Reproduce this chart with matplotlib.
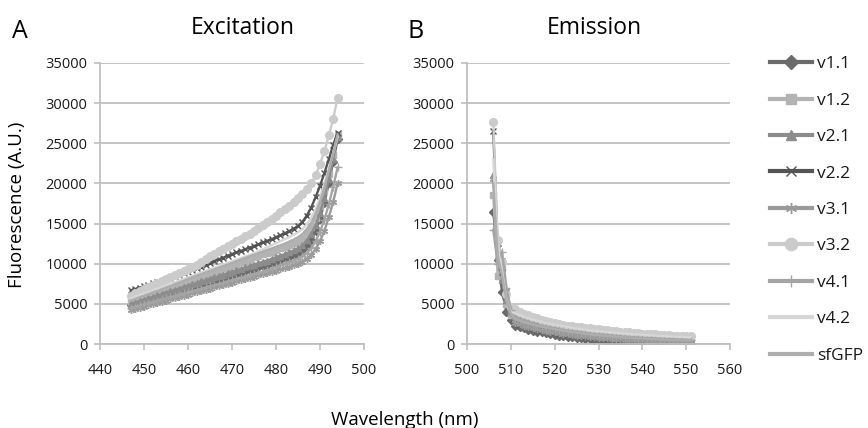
import matplotlib
matplotlib.use('Agg')
import matplotlib.pyplot as plt

plt.rcParams['font.family'] = ['Open Sans', 'DejaVu Sans']

# ---------------- data ----------------
series_names = ['v1.1', 'v1.2', 'v2.1', 'v2.2', 'v3.1', 'v3.2', 'v4.1', 'v4.2', 'sfGFP']

ex_wavelength = list(range(447, 495))   # nm, 1 nm steps
em_wavelength = list(range(506, 552))   # nm, 1 nm steps

ex_v11 = [4800, 4950, 5100, 5250, 5400, 5550, 5700, 5850, 6000, 6200, 6350, 6500, 6700, 6850, 7000, 7200,
          7350, 7550, 7700, 7850, 8050, 8200, 8400, 8550, 8750, 8900, 9050, 9250, 9400, 9550, 9750, 9900,
          10100, 10250, 10450, 10650, 10850, 11050, 11300, 11650, 12200, 13000, 14100, 15600, 17600, 20000,
          22700, 25500]
ex_v12 = [5200, 5400, 5600, 5800, 6000, 6200, 6400, 6600, 6800, 7000, 7200, 7450, 7650, 7900, 8100, 8300,
          8500, 8700, 8900, 9100, 9250, 9450, 9600, 9800, 10000, 10200, 10400, 10600, 10800, 11000, 11150,
          11350, 11500, 11700, 11900, 12100, 12300, 12550, 12800, 13200, 13800, 14600, 15700, 17200, 19000,
          21200, 23500, 26000]
ex_v21 = [5000, 5150, 5350, 5500, 5700, 5850, 6050, 6200, 6400, 6550, 6750, 6900, 7100, 7250, 7450, 7600,
          7800, 7950, 8150, 8300, 8500, 8650, 8850, 9000, 9200, 9350, 9550, 9700, 9900, 10050, 10250, 10400,
          10600, 10800, 11000, 11200, 11400, 11650, 11900, 12300, 12900, 13700, 14800, 16300, 18200, 20500,
          23000, 25800]
ex_v22 = [6700, 6850, 7000, 7200, 7350, 7550, 7700, 7900, 8100, 8250, 8450, 8600, 8800, 9000, 9250, 9450,
          9650, 9900, 10100, 10350, 10550, 10750, 11000, 11200, 11400, 11600, 11800, 12000, 12200, 12400,
          12650, 12850, 13050, 13300, 13550, 13800, 14050, 14350, 14700, 15200, 16000, 17000, 18300, 19700,
          21300, 23000, 24800, 26300]
ex_v31 = [4200, 4350, 4500, 4650, 4800, 4950, 5100, 5250, 5400, 5550, 5700, 5850, 6000, 6150, 6300, 6450,
          6600, 6750, 6900, 7050, 7200, 7350, 7500, 7650, 7800, 7950, 8100, 8250, 8400, 8550, 8700, 8850,
          9000, 9150, 9300, 9450, 9600, 9800, 10000, 10250, 10600, 11100, 11800, 12800, 14100, 15800, 17700,
          20000]
ex_v32 = [6000, 6300, 6550, 6800, 7050, 7300, 7550, 7800, 8050, 8300, 8550, 8800, 9050, 9300, 9600, 9900,
          10200, 10550, 10900, 11200, 11550, 11850, 12200, 12500, 12800, 13100, 13400, 13750, 14100, 14450,
          14800, 15200, 15600, 16000, 16400, 16850, 17250, 17700, 18200, 18700, 19300, 20000, 21000, 22400,
          24000, 26000, 28000, 30700]
ex_v41 = [4500, 4650, 4800, 4950, 5100, 5250, 5400, 5550, 5700, 5850, 6000, 6150, 6300, 6450, 6600, 6750,
          6900, 7050, 7200, 7350, 7500, 7650, 7800, 7950, 8100, 8250, 8400, 8550, 8700, 8850, 9000, 9200,
          9400, 9600, 9800, 10000, 10200, 10400, 10600, 10900, 11300, 11900, 12800, 14000, 15500, 17400,
          19600, 22000]
ex_v42 = [5700, 5900, 6100, 6300, 6500, 6700, 6900, 7100, 7300, 7500, 7700, 7900, 8100, 8300, 8500, 8700,
          8900, 9100, 9300, 9500, 9700, 9900, 10100, 10300, 10500, 10700, 10900, 11100, 11300, 11550, 11800,
          12050, 12300, 12550, 12800, 13050, 13300, 13600, 13900, 14300, 14900, 15700, 16800, 18200, 19900,
          21800, 23800, 25800]
ex_sfgfp = [5400, 5600, 5800, 6000, 6200, 6400, 6600, 6800, 7000, 7200, 7450, 7650, 7850, 8100, 8300, 8500,
            8700, 8900, 9100, 9300, 9500, 9700, 9900, 10100, 10300, 10500, 10700, 10900, 11100, 11300, 11500,
            11700, 11900, 12100, 12300, 12500, 12750, 13000, 13300, 13700, 14300, 15100, 16200, 17700, 19500,
            21600, 23800, 26100]

em_v11 = [16500, 10500, 6500, 4000, 3000, 2300, 2100, 1950, 1800, 1650, 1550, 1450, 1350, 1250, 1150, 1050,
          1000, 900, 850, 800, 700, 650, 600, 550, 500, 450, 400, 400, 350, 300, 300, 250, 250, 200, 200, 200,
          150, 150, 150, 100, 100, 100, 100, 100, 50, 50]
em_v12 = [18500, 8500, 9500, 5000, 3600, 3700, 3500, 3300, 3100, 2950, 2800, 2650, 2500, 2400, 2300, 2200,
          2100, 2000, 1900, 1850, 1750, 1700, 1600, 1550, 1500, 1450, 1400, 1350, 1300, 1250, 1200, 1150,
          1100, 1100, 1050, 1000, 1000, 950, 900, 900, 850, 850, 800, 800, 750, 750]
em_v21 = [21000, 11000, 8000, 5500, 4000, 3200, 3000, 2800, 2650, 2500, 2350, 2200, 2100, 2000, 1900, 1800,
          1700, 1600, 1550, 1450, 1400, 1300, 1250, 1200, 1150, 1100, 1050, 1000, 950, 900, 850, 800, 800,
          750, 700, 700, 650, 650, 600, 600, 550, 550, 500, 500, 500, 450]
em_v22 = [26500, 12000, 9000, 6500, 4200, 2700, 2500, 2350, 2200, 2050, 1950, 1800, 1700, 1600, 1500, 1400,
          1350, 1250, 1200, 1100, 1050, 1000, 950, 900, 850, 800, 750, 700, 650, 650, 600, 550, 550, 500, 500,
          450, 450, 400, 400, 400, 350, 350, 350, 300, 300, 300]
em_v31 = [20500, 12500, 10500, 6000, 3800, 2600, 2450, 2300, 2150, 2000, 1900, 1750, 1650, 1550, 1450, 1350,
          1300, 1200, 1150, 1050, 1000, 950, 900, 850, 800, 750, 700, 650, 600, 600, 550, 500, 500, 450, 450,
          400, 400, 350, 350, 350, 300, 300, 300, 250, 250, 250]
em_v32 = [27700, 13000, 10200, 6200, 4600, 4300, 4000, 3750, 3550, 3350, 3200, 3000, 2850, 2700, 2600, 2500,
          2400, 2300, 2200, 2150, 2100, 2000, 1950, 1900, 1850, 1800, 1700, 1650, 1600, 1550, 1500, 1450,
          1400, 1350, 1300, 1250, 1200, 1200, 1150, 1100, 1100, 1050, 1000, 1000, 950, 950]
em_v41 = [14200, 10000, 11500, 7000, 4200, 3300, 3050, 2850, 2700, 2550, 2400, 2250, 2150, 2050, 1950, 1850,
          1750, 1650, 1600, 1500, 1450, 1350, 1300, 1250, 1200, 1150, 1100, 1050, 1000, 950, 900, 850, 850,
          800, 750, 750, 700, 700, 650, 650, 600, 600, 550, 550, 550, 500]
em_v42 = [23000, 12000, 9000, 5500, 4000, 3800, 3600, 3400, 3200, 3050, 2900, 2750, 2600, 2500, 2400, 2300,
          2200, 2100, 2000, 1950, 1850, 1800, 1700, 1650, 1600, 1550, 1500, 1450, 1400, 1350, 1300, 1250,
          1200, 1200, 1150, 1100, 1100, 1050, 1000, 1000, 950, 950, 900, 900, 850, 850]
em_sfgfp = [20000, 11000, 8500, 5500, 3800, 3100, 2900, 2700, 2550, 2400, 2250, 2150, 2050, 1950, 1850, 1750,
            1650, 1550, 1500, 1400, 1350, 1250, 1200, 1150, 1100, 1050, 1000, 950, 900, 850, 800, 800, 750,
            700, 700, 650, 600, 600, 550, 550, 500, 500, 500, 450, 450, 450]

ex_values = [ex_v11, ex_v12, ex_v21, ex_v22, ex_v31, ex_v32, ex_v41, ex_v42, ex_sfgfp]
em_values = [em_v11, em_v12, em_v21, em_v22, em_v31, em_v32, em_v41, em_v42, em_sfgfp]

y_ticks = [0, 5000, 10000, 15000, 20000, 25000, 30000, 35000]
ex_x_ticks = [440, 450, 460, 470, 480, 490, 500]
em_x_ticks = [500, 510, 520, 530, 540, 550, 560]

# ---------------- styles ----------------
colors = ['#6a6a6a', '#b3b3b3', '#8c8c8c', '#545454', '#9a9a9a', '#cbcbcb', '#a4a4a4', '#d6d6d6', '#adadad']
markers = ['D', 's', '^', 'x', (6, 2, 0), 'o', '+', None, None]
msizes = [4.2, 4.5, 4.5, 4.5, 5, 5.5, 5.5, 0, 0]

grid_c = '#bfbfbf'
W, H = 868, 428
fig = plt.figure(figsize=(W / 100, H / 100), dpi=100)
ax1 = fig.add_axes([100 / W, 1 - 344 / H, 264 / W, 281 / H])
ax2 = fig.add_axes([467 / W, 1 - 344 / H, 263 / W, 281 / H])


def style_axes(ax, xticks):
    ax.set_xlim(xticks[0], xticks[-1])
    ax.set_ylim(0, 35000)
    ax.set_xticks(xticks)
    ax.set_yticks(y_ticks)
    ax.set_axisbelow(True)
    ax.grid(axis='y', color=grid_c, linewidth=1.3)
    for s in ['top', 'right']:
        ax.spines[s].set_visible(False)
    for s in ['left', 'bottom']:
        ax.spines[s].set_color(grid_c)
        ax.spines[s].set_linewidth(1.3)
    ax.tick_params(axis='both', direction='out', length=4, width=1.2, color=grid_c,
                   labelsize=10.5, labelcolor='#1a1a1a')
    ax.tick_params(axis='y', pad=5)
    ax.tick_params(axis='x', pad=10)


handles = []
for ax, xs, vals in [(ax1, ex_wavelength, ex_values), (ax2, em_wavelength, em_values)]:
    hs = []
    for name, v, c, m, ms in zip(series_names, vals, colors, markers, msizes):
        kw = dict(color=c, linewidth=1.7, label=name, solid_joinstyle='round')
        if m is not None:
            kw.update(marker=m, markersize=ms, markerfacecolor=c, markeredgecolor=c, markeredgewidth=1.0)
        h, = ax.plot(xs, v, **kw)
        hs.append(h)
    handles = hs

style_axes(ax1, ex_x_ticks)
style_axes(ax2, em_x_ticks)

# titles and labels
fig.text(12 / W, 1 - 38 / H, 'A', fontsize=18, ha='left', va='baseline')
fig.text(243 / W, 1 - 34 / H, 'Excitation', fontsize=16.5, ha='center', va='baseline')
fig.text(407 / W, 1 - 38 / H, 'B', fontsize=18, ha='left', va='baseline')
fig.text(594 / W, 1 - 34 / H, 'Emission', fontsize=16.5, ha='center', va='baseline')
fig.text(17 / W, 1 - 205 / H, 'Fluorescence (A.U.)', fontsize=13.5, rotation=90,
         ha='center', va='center')
fig.text(405 / W, 1 - 425 / H, 'Wavelength (nm)', fontsize=13.5, ha='center', va='baseline')

leg = fig.legend(handles, series_names, loc='upper left', bbox_to_anchor=(770 / W, 1 - 56 / H),
                 frameon=False, fontsize=12.5, handlelength=2.4, handletextpad=0.3,
                 labelspacing=1.17, borderpad=0, borderaxespad=0, markerscale=1.6)
for t in leg.get_texts():
    t.set_color('#1a1a1a')
for lh in leg.legend_handles:
    lh.set_linewidth(3.0)

fig.savefig('out.png', dpi=100)
